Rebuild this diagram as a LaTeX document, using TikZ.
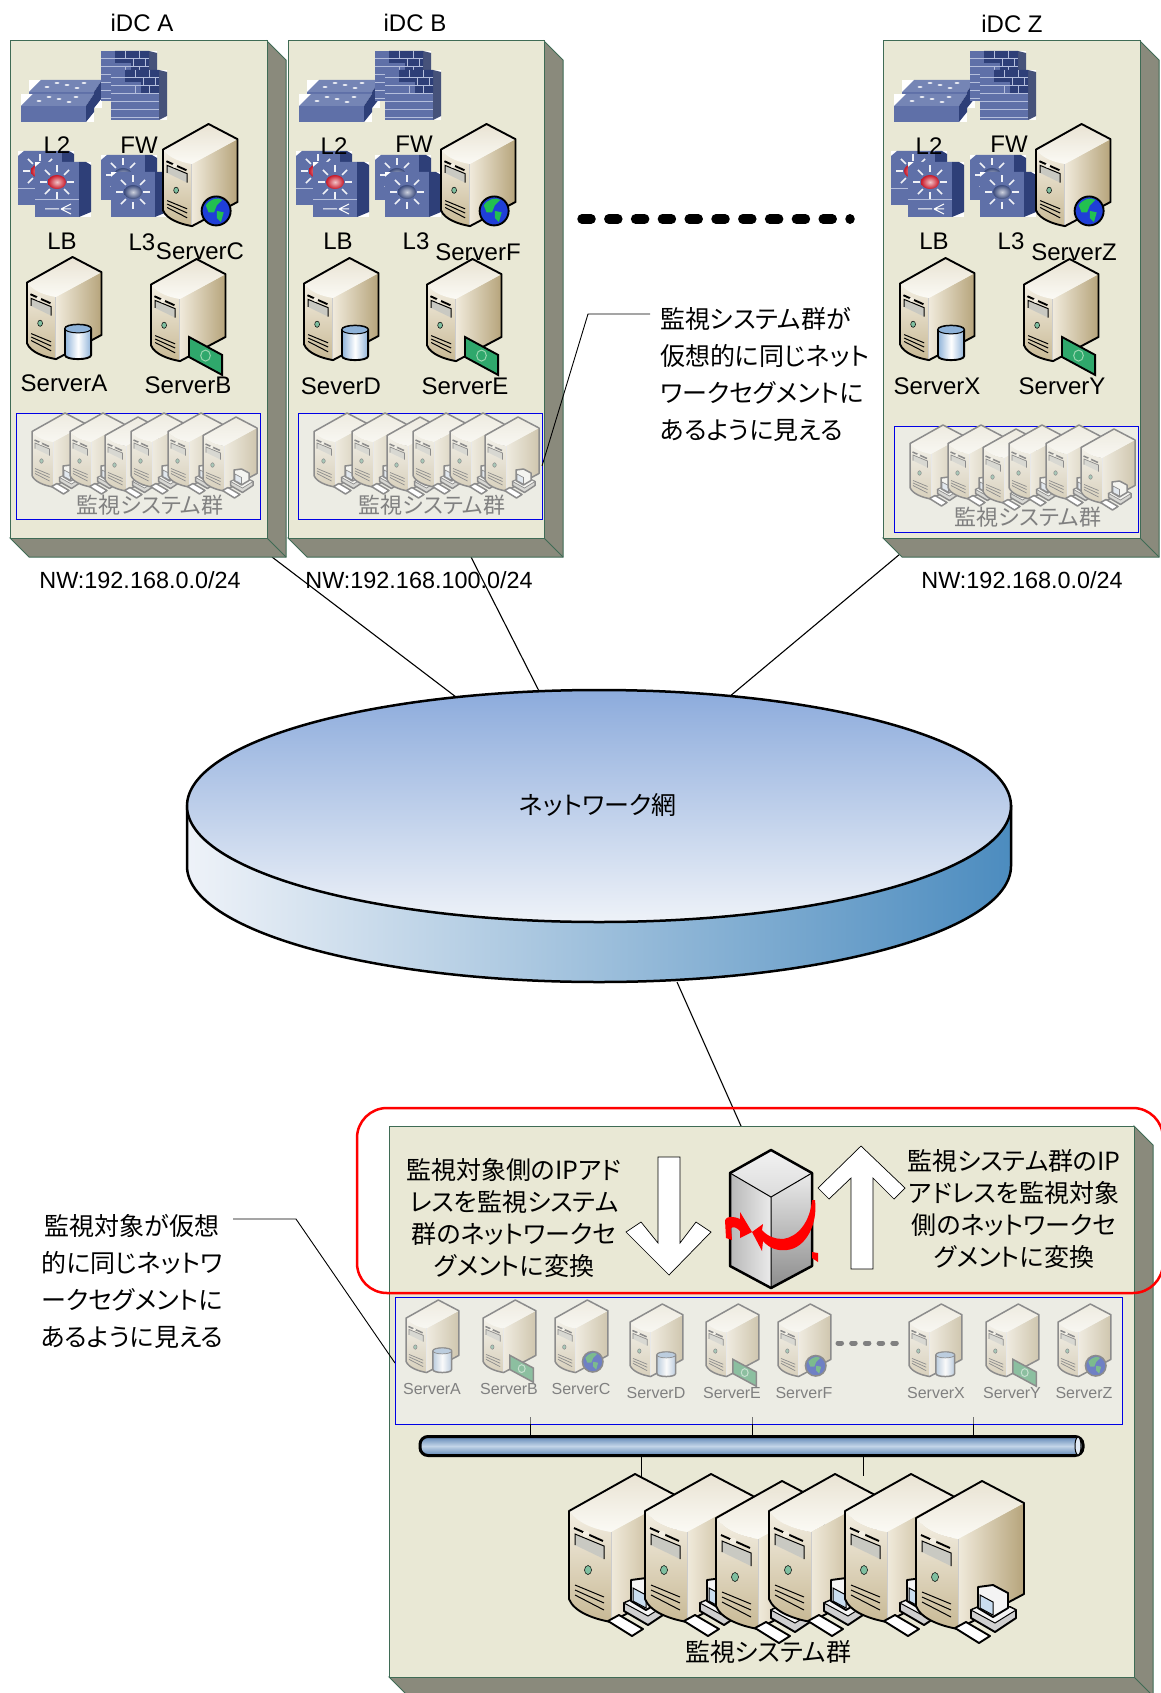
\documentclass[tikz,border=0pt]{standalone}
\usepackage{fontspec}
\setmainfont{Liberation Sans}
\newfontfamily\jp[RawFeature=+palt]{Noto Sans CJK JP}
\usetikzlibrary{calc}
\definecolor{pnlFill}{HTML}{E9E8D5}
\definecolor{pnlSide}{HTML}{8A8A7C}
\definecolor{pnlEdge}{HTML}{3F6B55}
\definecolor{boxFill}{HTML}{ECECE4}
\definecolor{gearF}{HTML}{5F70A8}
\definecolor{gearT}{HTML}{7585B5}
\definecolor{gearS}{HTML}{2E3F78}
\definecolor{gearL}{HTML}{B4BEDC}
\definecolor{diskA}{HTML}{8CABDC}
\definecolor{diskB}{HTML}{EEF2F8}
\definecolor{diskC}{HTML}{4C8CBF}
\definecolor{busA}{HTML}{5E85B5}
\definecolor{busB}{HTML}{C3D5E8}
\definecolor{ballBlue}{HTML}{3A4A7C}
\definecolor{ballRed}{HTML}{C81828}
\newcommand{\normalset}{%
 \colorlet{srvLine}{black}
 \definecolor{srvFA}{HTML}{F3EEE2}\definecolor{srvFB}{HTML}{C8B995}
 \definecolor{srvTop}{HTML}{FBFAF5}\definecolor{srvTopB}{HTML}{E9E3D3}
 \definecolor{srvSA}{HTML}{F0EADB}\definecolor{srvSB}{HTML}{B6A47B}
 \definecolor{srvDrv}{HTML}{C9C9C2}\definecolor{srvLed}{HTML}{7FBFA0}
 \definecolor{dbA}{HTML}{8FB3D9}\definecolor{dbB}{HTML}{FFFFFF}
 \definecolor{glA}{HTML}{1F3FD8}\definecolor{glB}{HTML}{22C050}
 \definecolor{moA}{HTML}{2FA86C}\definecolor{moB}{HTML}{9AD6B0}
 \definecolor{pcA}{HTML}{F4F4F4}\definecolor{pcB}{HTML}{CFCFCF}\definecolor{pcC}{HTML}{C9DDF0}
 \def\srvlw{1.9pt}\def\srvdet{1pt}}
\newcommand{\fadedset}{%
 \colorlet{srvLine}{black!45}
 \definecolor{srvFA}{HTML}{F3F1E9}\definecolor{srvFB}{HTML}{D8D0BC}
 \definecolor{srvTop}{HTML}{F8F7F2}\definecolor{srvTopB}{HTML}{EEEBE0}
 \definecolor{srvSA}{HTML}{EFEBE0}\definecolor{srvSB}{HTML}{CFC6AE}
 \definecolor{srvDrv}{HTML}{D8D8D2}\definecolor{srvLed}{HTML}{A8C8B8}
 \definecolor{dbA}{HTML}{BCCDDE}\definecolor{dbB}{HTML}{FAFAFA}
 \definecolor{glA}{HTML}{6F80C4}\definecolor{glB}{HTML}{7CBB8E}
 \definecolor{moA}{HTML}{8CBFA0}\definecolor{moB}{HTML}{C8E0D0}
 \definecolor{pcA}{HTML}{F4F4F0}\definecolor{pcB}{HTML}{D8D8D4}\definecolor{pcC}{HTML}{E2E8EE}
 \def\srvlw{1.5pt}\def\srvdet{.7pt}}
\newcommand{\bdgDb}{%
 \path[draw=srvLine,line width=\srvlw,left color=dbA,right color=dbA,middle color=dbB]
  (55,104) -- (55,142) .. controls (55,150) and (93,150) .. (93,142) -- (93,104)
  .. controls (93,96) and (55,96) .. (55,104) -- cycle;
 \draw[srvLine,line width=\srvdet,fill=dbA] (74,104) ellipse [x radius=19,y radius=6];}
\newcommand{\bdgGlobe}{%
 \draw[srvLine,line width=\srvlw,fill=glA] (77,126) circle (21);
 \fill[glB] (62,118) .. controls (68,108) and (80,106) .. (86,110) -- (78,118) -- (74,128) -- (66,128) -- cycle;
 \fill[glB] (78,126) -- (88,128) -- (84,142) -- (78,136) -- cycle;}
\newcommand{\bdgMoney}{%
 \draw[srvLine,line width=\srvlw,fill=moA] (55,113) -- (103,139) -- (103,168) -- (55,142) -- cycle;
 \draw[moB,line width=1pt] (79,140) ellipse [x radius=7,y radius=8];}
\newcommand{\bdgPc}{%
 \draw[srvLine,line width=\srvlw,line join=round,fill=pcB] (55,129) -- (62,126) -- (94,126) -- (100,129) -- (100,137) -- (79,151) -- (55,137) -- cycle;
 \draw[srvLine,line width=\srvdet,fill=pcA] (55,129) -- (62,126) -- (94,126) -- (100,129) -- (79,142) -- cycle;
 \draw[srvLine,line width=\srvlw,line join=round,fill=pcA] (62,106) -- (77,104) -- (92,112) -- (92,127) -- (77,136) -- (62,127) -- cycle;
 \draw[srvLine,line width=\srvdet,fill=pcC] (64,114) -- (77,121) -- (77,134) -- (64,127) -- cycle;
 \draw[srvLine,line width=\srvlw,line join=round,fill=white] (39,147) -- (50,141) -- (74,155) -- (63,162) -- cycle;}
% \mySrv{x}{y}{scale}{badge}
\newcommand{\mySrv}[4]{%
 \begin{scope}[shift={(#1,#2)},scale=#3]
  \path[left color=srvSA,right color=srvSB] (42,58) -- (108,22) -- (108,113) -- (42,148) -- cycle;
  \path[top color=srvFA,bottom color=srvFB] (0,37) .. controls (10,50) and (25,55) .. (42,58) -- (42,148) .. controls (25,145) and (5,138) .. (0,125) -- cycle;
  \path[top color=srvTopB,bottom color=srvTop] (0,37) -- (66,0) -- (108,22) -- (42,58) .. controls (25,55) and (10,50) .. (0,37) -- cycle;
  \draw[white!80!srvLine,line width=\srvdet] (42,58) -- (42,148);
  \draw[srvLine,line width=\srvlw,line join=round] (0,37) -- (66,0) -- (108,22) -- (108,113) -- (42,148) .. controls (25,145) and (5,138) .. (0,125) -- cycle;
  \fill[srvDrv] (6,60) -- (35,72) -- (35,85) -- (6,71) -- cycle;
  \draw[srvLine,line width=\srvdet] (35,85) -- (35,72) -- (6,60) -- (6,71);
  \draw[srvLine,line width=\srvlw] (5,54) -- (34,67);
  \fill[srvFA] (17,60) circle (3.5);
  \draw[srvLine,line width=.5pt,fill=srvLed] (19,96) ellipse [x radius=3.5,y radius=4.5];
  \draw[srvLine,line width=\srvdet] (6,111) -- (35,123) (6,116) -- (35,129) (6,121) -- (35,136);
  #4
 \end{scope}}
% \myGear{x}{y}{h}{ball colour}{strip}
\newcommand{\myGear}[5]{%
 \begin{scope}[shift={(#1,#2)}]
  \fill[white] (0,0) rectangle (56,#3);
  \fill[gearF] (0,5) -- (6,0) -- (44,0) -- (44,#3) -- (0,#3) -- cycle;
  \fill[gearS] (44,0) -- (51,0) -- (56,3) -- ($(56,#3)+(0,-5)$) -- (44,#3) -- cycle;
  \foreach \a in {0,45,...,315}{\draw[white!90!gearF,line width=1.5pt] ($(22,20)+(\a:10)$) -- ($(22,20)+(\a:17)$);}
  \shade[inner color=white!75!#4,outer color=#4] (22,20) ellipse [x radius=9,y radius=7];
  #5
 \end{scope}}
\newcommand{\myWall}[2]{%
 \begin{scope}[shift={(#1,#2)}]
  \fill[white] (0,0) rectangle (56,50);
  \fill[gearF] (0,0) rectangle (48,50);
  \fill[gearS!70!gray] (48,0) -- (56,2) -- (56,46) -- (48,50) -- cycle;
  \fill[gearS] (14,0) -- (48,0) -- (48,24) -- (30,24) -- (30,12) -- (14,12) -- cycle;
  \foreach \yy in {8,16,...,48}{\draw[gearL,line width=1pt] (0,\yy) -- (48,\yy);}
  \foreach \xx/\yy in {24/0,38/0,32/8,44/8,24/16,38/16}{\draw[gearL,line width=1pt] (\xx,\yy) -- ++(0,8);}
 \end{scope}}
\newcommand{\mySwitch}[2]{%
 \begin{scope}[shift={(#1,#2)}]
  \fill[white] (0,0) rectangle (73,28);
  \fill[gearT] (0,12) -- (12,0) -- (73,0) -- (65,12) -- cycle;
  \fill[gearF] (0,12) rectangle (65,28);
  \fill[gearS] (65,12) -- (73,0) -- (73,18) -- (65,28) -- cycle;
  \foreach \xx/\yy in {18/7,38/5,55/3,28/3,48/8}{\fill[white] (\xx,\yy) ellipse [x radius=2.5,y radius=.8];}
 \end{scope}}
\newcommand{\stripLB}{\draw[gearL,line width=1pt] (0,38) -- (44,38);
  \draw[white,line width=1pt] (10,47) -- (24,47) (26,47) -- (36,42) (26,47) -- (36,47) (26,47) -- (36,52);}
\newcommand{\stripNone}{\draw[gearL,line width=1pt] (0,38) -- (44,38);}
\newcommand{\panelBox}[5]{%
 \draw[pnlEdge,line width=1pt,fill=pnlSide] (#3,#2) -- ({#3+#5},{#2+#5}) -- ({#3+#5},{#4+#5}) -- ({#1+#5},{#4+#5}) -- (#1,#4) -- (#3,#4) -- cycle;
 \draw[pnlEdge,line width=.8pt] (#3,#4) -- ({#3+#5},{#4+#5});
 \draw[pnlEdge,line width=1pt,fill=pnlFill] (#1,#2) rectangle (#3,#4);}
% one upper data-centre content block: offset of left column, offset of right column
\newcommand{\gearBlock}[2]{%
 \begin{scope}[shift={(#1,0)}]
  \mySwitch{29}{80}\mySwitch{21}{94}
  \myGear{18}{151}{54}{ballRed}{\stripNone}
  \myGear{35}{162}{55}{ballRed}{\stripLB}
 \end{scope}
 \begin{scope}[shift={(#2,0)}]
  \myWall{101}{51}\myWall{111}{70}
  \myGear{101}{155}{45}{ballBlue}{}
  \myGear{111}{172}{45}{ballBlue}{}
 \end{scope}}
\newcommand{\monBlock}[2]{%
 \begin{scope}[shift={(#1,#2)}]\fadedset
  \mySrv{32}{413}{.5}{\bdgPc}\mySrv{70}{413}{.5}{\bdgPc}\mySrv{105}{417}{.5}{\bdgPc}
  \mySrv{131}{413}{.5}{\bdgPc}\mySrv{168}{413}{.5}{\bdgPc}\mySrv{203}{417}{.5}{\bdgPc}
 \end{scope}}
\tikzset{
 lat/.style={inner sep=0pt,font=\fontsize{24}{24}\selectfont},
 nw/.style={inner sep=0pt,font=\fontsize{23.4}{23.4}\selectfont},
 jptxt/.style={inner sep=0pt,font=\jp\fontsize{25}{32}\selectfont,align=center},
 calltxt/.style={inner sep=0pt,font=\jp\fontsize{25}{37}\selectfont},
 graytxt/.style={inner sep=0pt,text=black!50,font=\jp\fontsize{22}{22}\selectfont},
 smalllbl/.style={inner sep=0pt,text=black!50,font=\fontsize{16}{16}\selectfont},
 wire/.style={draw=black,line width=1.1pt},
 monbox/.style={draw=blue!90!black,line width=1pt,fill=boxFill},
 bigarrow/.style={draw=black,line width=.7pt,fill=white,line join=miter},
}
\begin{document}
\begin{tikzpicture}[x=1pt,y=-1pt]
\normalset
\useasboundingbox (0,0) rectangle (1160,1693);
\fill[white] (0,0) rectangle (1160,1693);
% connector ends
\coordinate (dcA) at (272,557);
\coordinate (dcB) at (471,557);
\coordinate (dcZ) at (900,554);
\coordinate (netA) at (456,697);
\coordinate (netB) at (539,691);
\coordinate (netZ) at (729,697);
\coordinate (netS) at (677,982);
\coordinate (nat) at (741,1126);
\draw[wire] (dcA) -- (netA);
\draw[wire] (dcB) -- (netB);
\draw[wire] (dcZ) -- (netZ);
\draw[wire] (netS) -- (nat);
% panels
\panelBox{10}{41}{267}{538}{19}
\panelBox{288}{41}{544}{538}{19}
\panelBox{883}{41}{1140}{538}{19}
\panelBox{389}{1126}{1134}{1677}{19}
% iDC labels
\node[lat] (tA) at (142,23) {iDC A};
\node[lat] (tB) at (415,23) {iDC B};
\node[lat] (tZ) at (1012,24) {iDC Z};
% gear
\gearBlock{0}{0}\gearBlock{278}{274}\gearBlock{873}{869}
% device labels
\foreach \nm/\xx/\yy/\tx in {a/57/145/L2,b/139/145/FW,c/62/241/LB,d/142/242/L3,
  e/334/146/L2,f/414/144/FW,g/338/241/LB,h/416/241/L3,
  i/929/146/L2,j/1009/144/FW,k/934/241/LB,l/1011/241/L3}{
  \node[lat] (lb\nm) at (\xx,\yy) {\tx};}
% servers
\mySrv{163}{124}{.69}{\bdgGlobe}
\mySrv{27}{257}{.69}{\bdgDb}
\mySrv{151}{259}{.69}{\bdgMoney}
\mySrv{441}{124}{.69}{\bdgGlobe}
\mySrv{304}{258}{.69}{\bdgDb}
\mySrv{427}{259}{.69}{\bdgMoney}
\mySrv{1036}{124}{.69}{\bdgGlobe}
\mySrv{900}{258}{.69}{\bdgDb}
\mySrv{1024}{259}{.69}{\bdgMoney}
\foreach \nm/\xx/\yy/\tx in {c1/200/251/ServerC,a1/64/383/ServerA,b1/188/385/ServerB,
  f1/478/252/ServerF,d1/341/386/SeverD,e1/465/386/ServerE,
  z1/1074/252/ServerZ,x1/937/386/ServerX,y1/1062/386/ServerY}{
  \node[lat] (lb\nm) at (\xx,\yy) {\tx};}
% monitoring boxes
\draw[monbox] (16,413) rectangle (260,519);
\draw[monbox] (298,413) rectangle (542,519);
\draw[monbox] (894,426) rectangle (1138,532);
\monBlock{0}{0}\monBlock{282}{0}\monBlock{878}{12}
\node[graytxt] (mA) at (150,505) {監視システム群};
\node[graytxt] (mB) at (432,505) {監視システム群};
\node[graytxt] (mZ) at (1028,517) {監視システム群};
% NW labels
\node[nw] (nwA) at (140,580) {NW:192.168.0.0/24};
\node[nw] (nwB) at (419,580) {NW:192.168.100.0/24};
\node[nw] (nwZ) at (1022,580) {NW:192.168.0.0/24};
% dots
\coordinate (dotL) at (582,219);
\coordinate (dotR) at (850,219);
\draw[line width=9.5pt,line cap=round,dash pattern=on 9pt off 17.8pt] (dotL) -- (dotR);
% upper callout
\node[calltxt,anchor=west,align=left] (cU) at (660,374) {監視システム群が\\仮想的に同じネット\\ワークセグメントに\\あるように見える};
\coordinate (cU1) at (650,314);
\coordinate (cU2) at (588,314);
\coordinate (cU3) at (542,466);
\draw[black,line width=.9pt] (cU1) -- (cU2) -- (cU3);
% network disk
\path[draw=black,line width=2.5pt,left color=diskB,right color=diskC]
 (187,806) -- (187,866) .. controls (187,930) and (371.5,982) .. (599,982)
 .. controls (826.5,982) and (1011,930) .. (1011,866) -- (1011,806) -- cycle;
\draw[black,line width=2.5pt,top color=diskA,bottom color=diskB]
 (599,806) ellipse [x radius=412,y radius=116];
\node[inner sep=0pt,font=\jp\fontsize{25}{25}\selectfont] (net) at (598,805) {ネットワーク網};
% lower callout
\node[calltxt,align=center] (cL) at (132,1281) {監視対象が仮想\\的に同じネットワ\\ークセグメントに\\あるように見える};
\coordinate (cL1) at (233,1219);
\coordinate (cL2) at (296,1219);
\coordinate (cL3) at (395,1363);
\draw[black,line width=.9pt] (cL1) -- (cL2) -- (cL3);
% NAT texts
\node[jptxt] (tL) at (514,1218) {監視対象側のIPアド\\レスを監視システム\\群のネットワークセ\\グメントに変換};
\node[jptxt] (tR) at (1014,1209) {監視システム群のIP\\アドレスを監視対象\\側のネットワークセ\\グメントに変換};
% arrows
\draw[bigarrow] (658,1157) -- (680,1157) -- (680,1243) -- (696,1222) -- (711,1232) -- (669,1275) -- (626,1232) -- (641,1222) -- (658,1243) -- cycle;
\draw[bigarrow] (861,1146) -- (905,1188) -- (894,1199) -- (873,1178) -- (873,1269) -- (851,1269) -- (851,1178) -- (829,1199) -- (818,1188) -- cycle;
% NAT box
\path[left color=black!28,right color=black!8] (730,1173) -- (771,1197) -- (771,1288) -- (730,1266) -- cycle;
\path[top color=black!8,bottom color=black!45] (771,1197) -- (812,1173) -- (812,1266) -- (771,1288) -- cycle;
\path[top color=black!5,bottom color=black!14] (730,1173) -- (771,1150) -- (812,1173) -- (771,1197) -- cycle;
\draw[black,line width=1pt] (730,1173) -- (771,1197) -- (812,1173) (771,1197) -- (771,1288);
\draw[black,line width=2.5pt,line join=round] (771,1150) -- (812,1173) -- (812,1266) -- (771,1288) -- (730,1266) -- (730,1173) -- cycle;
\fill[red] (752,1232) -- (763,1224) -- (762,1230) .. controls (768,1237) and (776,1239) .. (783,1239)
 .. controls (798,1237) and (810,1222) .. (812,1200) -- (815,1200)
 .. controls (818,1224) and (806,1248) .. (787,1250) .. controls (778,1251) and (770,1249) .. (763,1241) -- (762,1251) -- cycle;
\fill[red] (752,1232) -- (740,1212) -- (740,1219) .. controls (733,1216) and (727,1216) .. (725,1220)
 -- (726,1238) -- (732,1240) -- (731,1228) .. controls (734,1226) and (737,1228) .. (740,1231) -- (740,1238) -- cycle;
\fill[red] (812,1252) -- (818,1253) -- (818,1262) -- (812,1258) -- cycle;
% lower monitoring box
\draw[monbox] (395,1297) rectangle (1122,1424);
\begin{scope}\fadedset
 \mySrv{406}{1300}{.49}{\bdgDb}
 \mySrv{483}{1300}{.49}{\bdgMoney}
 \mySrv{555}{1300}{.49}{\bdgGlobe}
 \mySrv{630}{1304}{.49}{\bdgDb}
 \mySrv{706}{1304}{.49}{\bdgMoney}
 \mySrv{778}{1304}{.49}{\bdgGlobe}
 \mySrv{909}{1304}{.49}{\bdgDb}
 \mySrv{986}{1304}{.49}{\bdgMoney}
 \mySrv{1058}{1304}{.49}{\bdgGlobe}
\end{scope}
\foreach \nm/\xx/\yy/\tx in {p/432/1389/ServerA,q/509/1389/ServerB,r/581/1389/ServerC,
  s/656/1393/ServerD,t/732/1393/ServerE,u/804/1393/ServerF,
  v/936/1393/ServerX,w/1012/1393/ServerY,m/1084/1393/ServerZ}{
  \node[smalllbl] (sl\nm) at (\xx,\yy) {\tx};}
\coordinate (gdL) at (838,1343);
\coordinate (gdR) at (897,1343);
\draw[black!50,line width=5pt,line cap=round,dash pattern=on 3.5pt off 10.2pt] (gdL) -- (gdR);
% bus
\node[draw=black,line width=3pt,rounded corners=8pt,minimum width=663pt,minimum height=19pt,inner sep=0pt,
  top color=busA,bottom color=busA,middle color=busB] (bus) at (751.5,1446) {};
\draw[black,line width=1pt,fill=busB!50!white] (1078,1446) ellipse [x radius=3,y radius=9];
\coordinate (t1) at (530,1424);
\coordinate (t2) at (752,1424);
\coordinate (t3) at (973,1424);
\coordinate (t1g) at (530,1417);
\coordinate (t2g) at (752,1417);
\coordinate (t3g) at (973,1417);
\draw[black!55,line width=1pt] (t1g) -- (t1) (t2g) -- (t2) (t3g) -- (t3);
\draw[black,line width=1pt] (t1) -- (t1 |- bus.north) (t2) -- (t2 |- bus.north) (t3) -- (t3 |- bus.north);
\coordinate (b1) at (641.5,1477);
\coordinate (b2) at (863,1476);
\draw[black,line width=1pt] (bus.south -| b1) -- (b1) (bus.south -| b2) -- (b2);
% monitoring servers
\mySrv{569}{1474}{1}{\bdgPc}
\mySrv{645}{1474}{1}{\bdgPc}
\mySrv{716}{1481}{1}{\bdgPc}
\mySrv{769}{1474}{1}{\bdgPc}
\mySrv{845}{1474}{1}{\bdgPc}
\mySrv{916}{1481}{1}{\bdgPc}
\node[inner sep=0pt,font=\jp\fontsize{25}{25}\selectfont] (mB2) at (768,1652) {監視システム群};
% red frame
\node[draw=red,line width=2.5pt,rounded corners=30pt,minimum width=806pt,minimum height=185pt,inner sep=0pt] (redbox) at (760,1200.5) {};
\end{tikzpicture}
\end{document}
